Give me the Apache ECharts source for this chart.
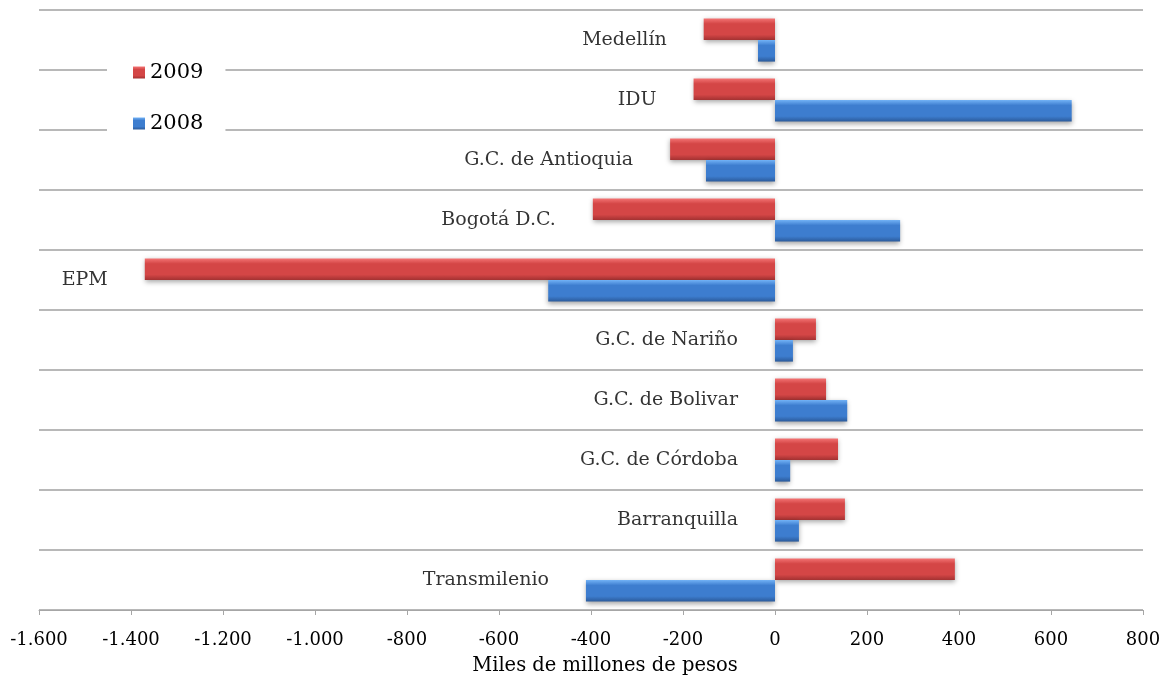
<!DOCTYPE html>
<html>
<head>
<meta charset="utf-8">
<script src="https://cdn.jsdelivr.net/npm/echarts@6/dist/echarts.min.js"></script>
<style>html,body{margin:0;padding:0;background:#fff}#c{width:1168px;height:679px}</style>
</head>
<body>
<div id="c"></div>
<script>
var categories = ['Medellín','IDU','G.C. de Antioquia','Bogotá D.C.','EPM','G.C. de Nariño','G.C. de Bolivar','G.C. de Córdoba','Barranquilla','Transmilenio'];
var values2009 = [-155, -177, -228, -396, -1370, 89, 111, 137, 152, 391];
var values2008 = [-37, 645, -150, 272, -493, 39, 157, 33, 52, -411];
var xTicks = {min: -1600, max: 800, interval: 200};

var FONT = 'DejaVu Serif';
function grad(c1, c2, c3) {
  return new echarts.graphic.LinearGradient(0, 0, 0, 1, [
    {offset: 0, color: c1}, {offset: 0.25, color: c2}, {offset: 0.75, color: c2}, {offset: 1, color: c3}
  ]);
}
var red = grad('#f47474', '#d44646', '#a33232');
var blue = grad('#72b2f6', '#3d7dcf', '#2b5a9a');

var labelData = categories.map(function (c, i) {
  return [Math.min(0, values2009[i], values2008[i]), c];
});

function fmt(v) {
  v = Number(v);
  var s = String(Math.abs(v));
  if (s.length > 3) s = s.slice(0, s.length - 3) + '.' + s.slice(s.length - 3);
  return (v < 0 ? '-' : '') + s;
}

var chart = echarts.init(document.getElementById('c'));
chart.setOption({
  animation: false,
  textStyle: {fontFamily: FONT, color: '#000'},
  grid: {left: 39, right: 25, top: 10, bottom: 69, containLabel: false, outerBoundsMode: 'none'},
  legend: {
    orient: 'vertical', left: 107, top: 54,
    backgroundColor: '#fff',
    padding: [8, 22, 8, 26],
    itemGap: 30, itemWidth: 12, itemHeight: 12,
    icon: 'rect',
    textStyle: {fontFamily: FONT, fontSize: 21, color: '#000'},
    data: ['2009', '2008']
  },
  xAxis: {
    type: 'value', min: xTicks.min, max: xTicks.max, interval: xTicks.interval,
    axisLine: {show: true, lineStyle: {color: '#a6a6a6', width: 1}},
    axisTick: {show: true, length: 5, lineStyle: {color: '#a6a6a6'}},
    splitLine: {show: false},
    axisLabel: {show: true, fontFamily: FONT, fontSize: 18, color: '#000', margin: 21, formatter: fmt},
    name: 'Miles de millones de pesos', nameLocation: 'middle', nameGap: 46,
    nameTextStyle: {fontFamily: FONT, fontSize: 19.5, color: '#000', padding: [0, 0, 0, 28]}
  },
  yAxis: {
    type: 'category', data: categories, inverse: true,
    axisLine: {show: false}, axisTick: {show: false}, axisLabel: {show: false},
    splitLine: {show: true, lineStyle: {color: '#a0a0a0', width: 1.5}}
  },
  series: [
    {
      name: '2009', type: 'bar', data: values2009, barCategoryGap: '28%', barGap: '0%',
      itemStyle: {color: red, shadowBlur: 5, shadowColor: 'rgba(0,0,0,0.35)', shadowOffsetY: 2}
    },
    {
      name: '2008', type: 'bar', data: values2008, barCategoryGap: '28%', barGap: '0%',
      itemStyle: {color: blue, shadowBlur: 5, shadowColor: 'rgba(0,0,0,0.35)', shadowOffsetY: 2}
    },
    {
      type: 'scatter', data: labelData, symbolSize: 0, silent: true,
      label: {show: true, position: 'left', distance: 37, formatter: function (p) { return p.data[1]; },
        fontFamily: FONT, fontSize: 19, color: '#000'}
    }
  ]
});
</script>
</body>
</html>
